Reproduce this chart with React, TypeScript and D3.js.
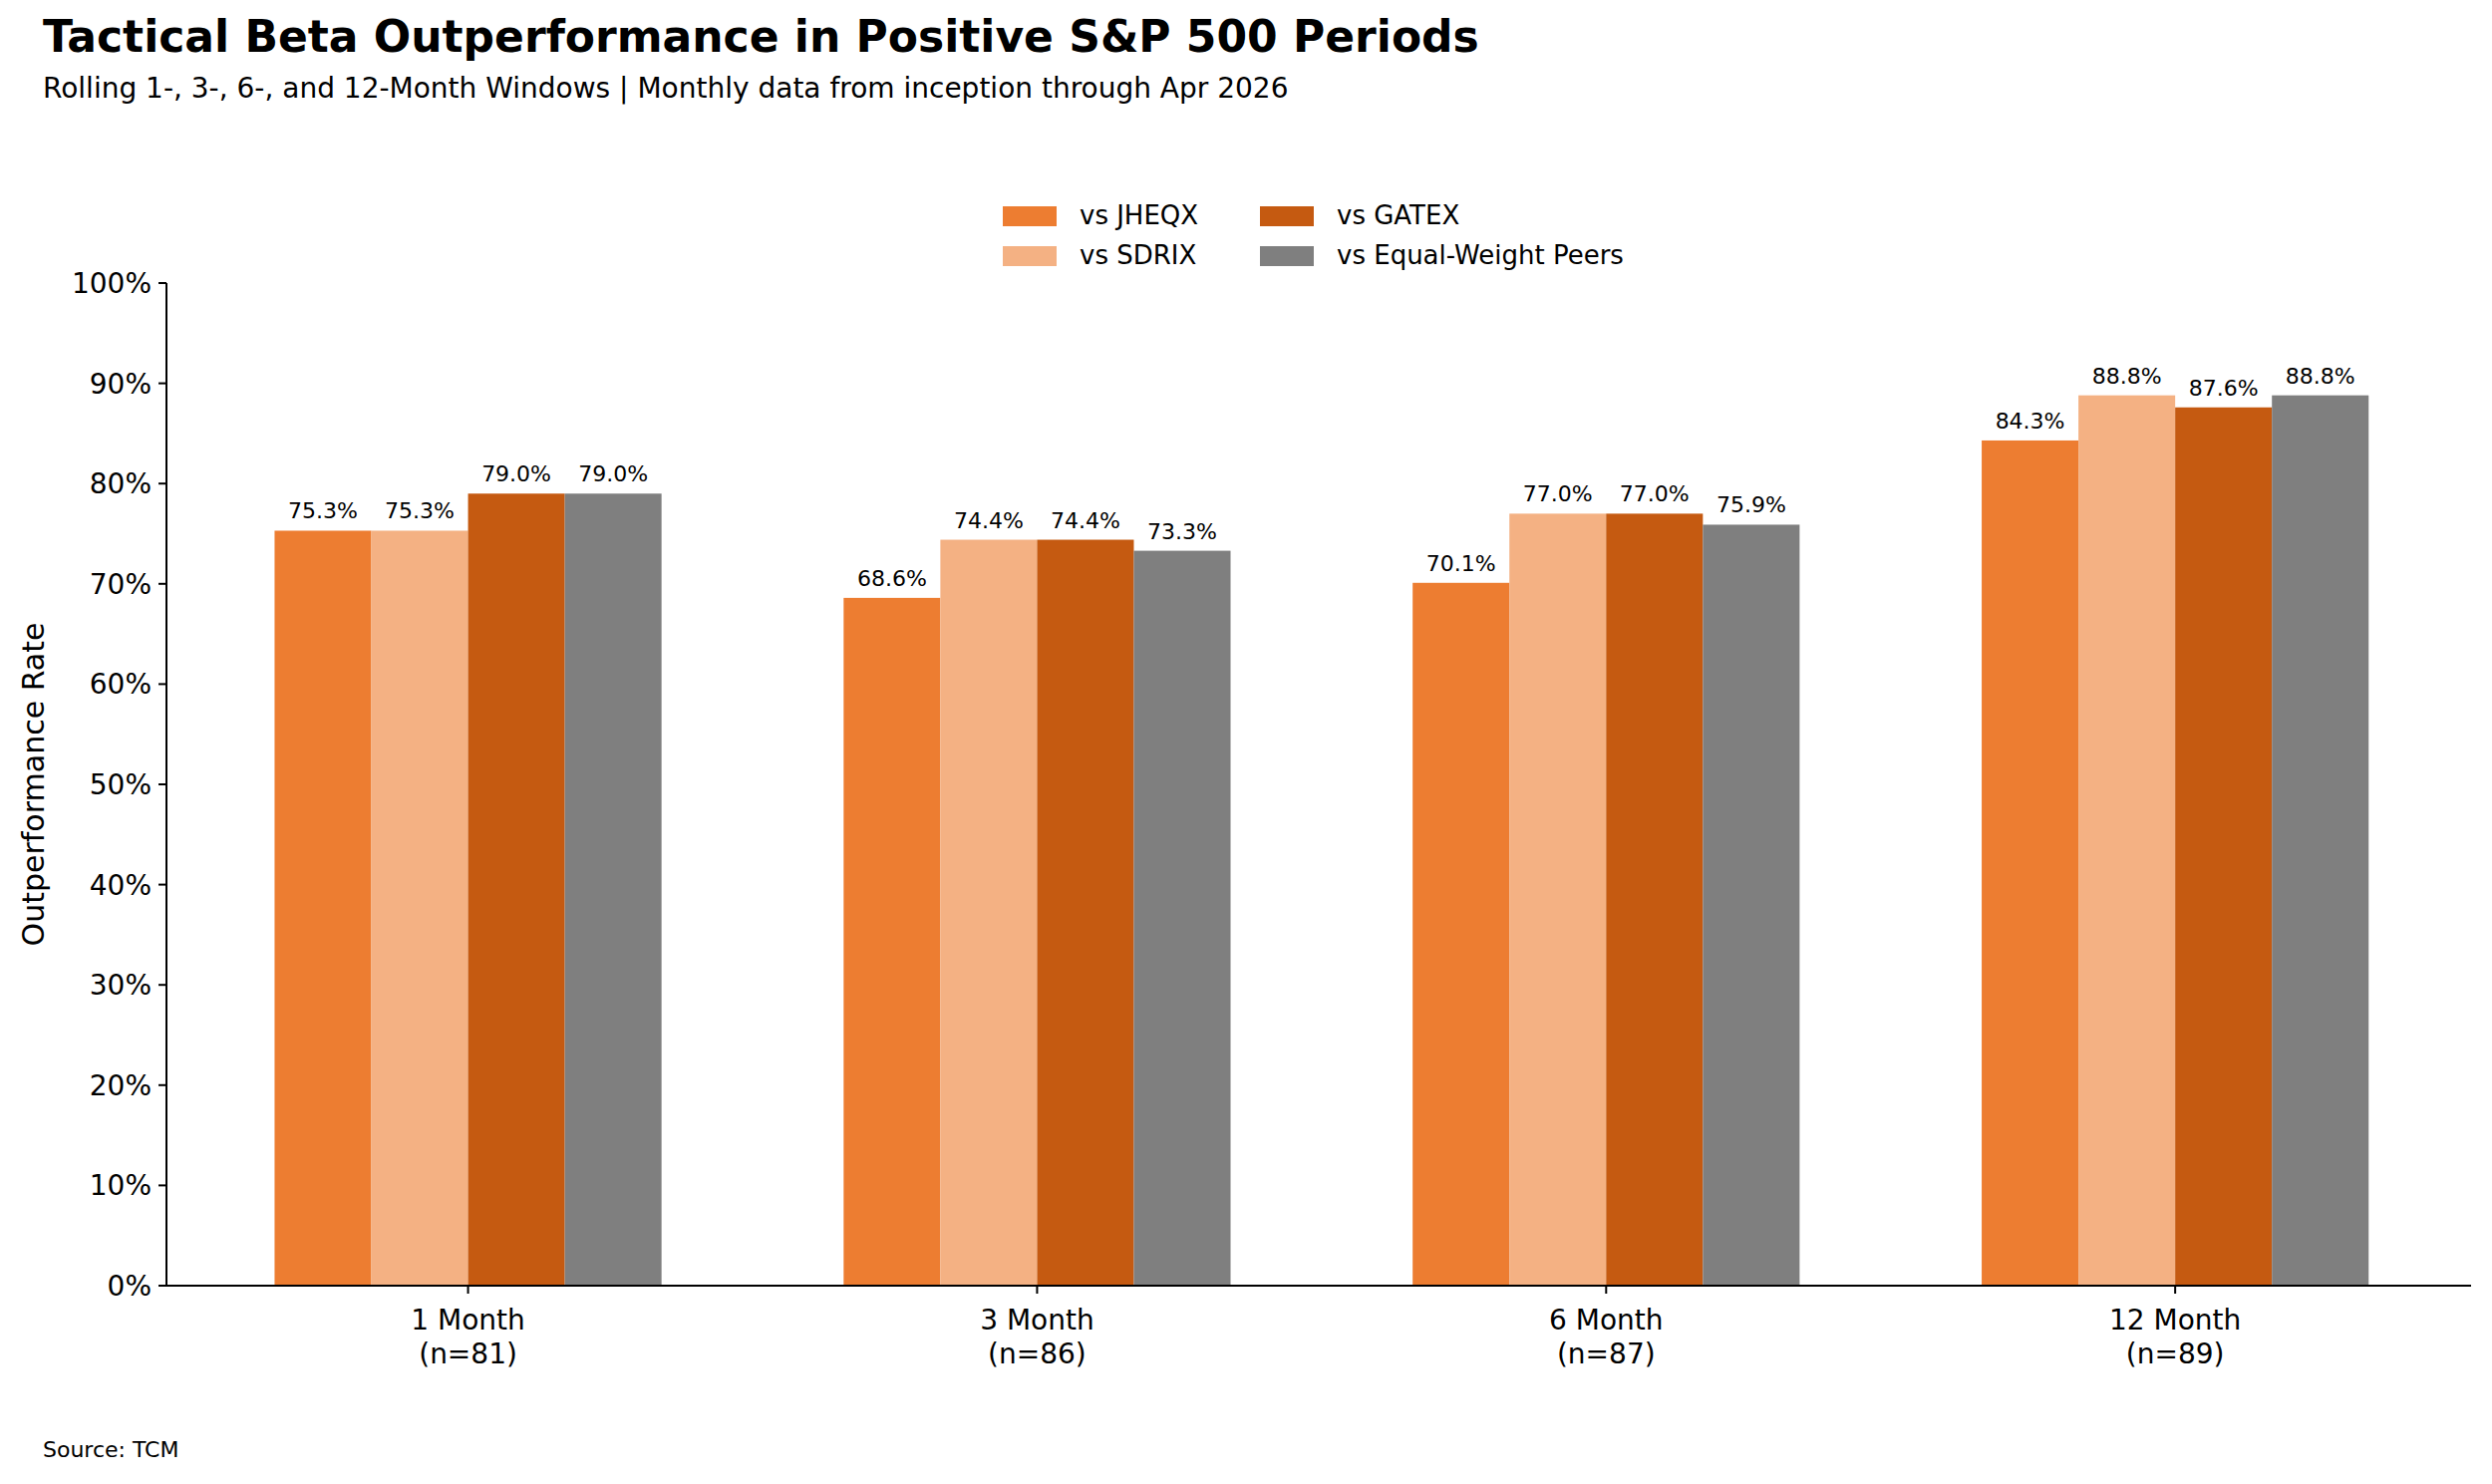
import React from "react";
import * as d3 from "d3";

const categories = ["1 Month", "3 Month", "6 Month", "12 Month"];
const counts = ["(n=81)", "(n=86)", "(n=87)", "(n=89)"];
const seriesNames = ["vs JHEQX", "vs SDRIX", "vs GATEX", "vs Equal-Weight Peers"];
const colors = ["#ED7D31", "#F4B183", "#C55A11", "#7F7F7F"];
const jheqx = [75.3, 68.6, 70.1, 84.3];
const sdrix = [75.3, 74.4, 77.0, 88.8];
const gatex = [79.0, 74.4, 77.0, 87.6];
const peers = [79.0, 73.3, 75.9, 88.8];
const series = [jheqx, sdrix, gatex, peers];
const yTicks = [0, 10, 20, 30, 40, 50, 60, 70, 80, 90, 100];

const W = 2500, H = 1489;
const left = 167, right = 2479, top = 284, bottom = 1290;
const font = "DejaVu Sans, sans-serif";

export default function App() {
  const x = d3.scaleLinear().domain([-0.53, 3.52]).range([left, right]);
  const y = d3.scaleLinear().domain([0, 100]).range([bottom, top]);
  const bw = 0.17;
  const bwPx = x(bw) - x(0);

  return (
    <svg width={W} height={H} style={{ display: "block", margin: -8 }} fontFamily={font}>
      <rect width={W} height={H} fill="#fff" />
      <text x={43} y={52} fontSize={44} fontWeight="bold">Tactical Beta Outperformance in Positive S&amp;P 500 Periods</text>
      <text x={43} y={98} fontSize={28}>Rolling 1-, 3-, 6-, and 12-Month Windows | Monthly data from inception through Apr 2026</text>

      {seriesNames.map((n, i) => {
        const lx = i % 2 === 0 ? 1006 : 1264;
        const ly = i < 2 ? 207 : 247;
        const idx = [0, 2, 1, 3][i];
        return (
          <g key={n}>
            <rect x={lx} y={ly} width={54} height={20} fill={colors[idx]} />
            <text x={lx + 77} y={ly + 18} fontSize={26}>{seriesNames[idx]}</text>
          </g>
        );
      })}

      {series.map((vals, s) =>
        vals.map((v, c) => {
          const x0 = x(c + (s - 2) * bw);
          return (
            <g key={`${s}-${c}`}>
              <rect x={x0} y={y(v)} width={bwPx} height={bottom - y(v)} fill={colors[s]} />
              <text x={x0 + bwPx / 2} y={y(v) - 12} fontSize={22} textAnchor="middle">{v.toFixed(1)}%</text>
            </g>
          );
        })
      )}

      <line x1={left} x2={left} y1={top} y2={bottom} stroke="#000" strokeWidth={2} />
      <line x1={left} x2={right} y1={bottom} y2={bottom} stroke="#000" strokeWidth={2} />
      {yTicks.map((t) => (
        <g key={t}>
          <line x1={left - 8} x2={left} y1={y(t)} y2={y(t)} stroke="#000" strokeWidth={2} />
          <text x={left - 15} y={y(t) + 10} fontSize={28} textAnchor="end">{t}%</text>
        </g>
      ))}
      {categories.map((c, i) => (
        <g key={c}>
          <line x1={x(i)} x2={x(i)} y1={bottom} y2={bottom + 8} stroke="#000" strokeWidth={2} />
          <text x={x(i)} y={bottom + 44} fontSize={28} textAnchor="middle">{c}</text>
          <text x={x(i)} y={bottom + 78} fontSize={28} textAnchor="middle">{counts[i]}</text>
        </g>
      ))}
      <text transform={`translate(44,${(top + bottom) / 2}) rotate(-90)`} fontSize={30} textAnchor="middle">Outperformance Rate</text>
      <text x={43} y={1462} fontSize={22}>Source: TCM</text>
    </svg>
  );
}
